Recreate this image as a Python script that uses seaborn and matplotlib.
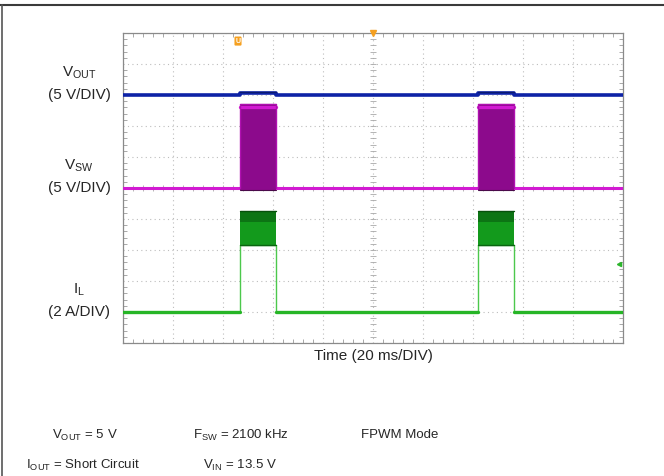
import numpy as np
import pandas as pd
import matplotlib
matplotlib.use("Agg")
import matplotlib.pyplot as plt
import seaborn as sns
from matplotlib.lines import Line2D

# Scope capture: time in ms, trace levels in screen divisions (0 = bottom edge)
time_span_ms = [0, 200]
pulse_start_ms = [46.8, 142.0]
pulse_end_ms = [61.2, 156.4]

vout_base = 8.0
vout_pulse = 8.08
vsw_base = 5.0
vsw_low = 4.93
vsw_high = 7.72
il_base = 1.0
il_band_low = 3.16
il_band_high = 4.26

channel_names = [r"V$_{\mathregular{OUT}}$", r"V$_{\mathregular{SW}}$", r"I$_{\mathregular{L}}$"]
channel_scales = ["(5 V/DIV)", "(5 V/DIV)", "(2 A/DIV)"]
channel_levels = [vout_base, vsw_base, il_base]

time_label = "Time (20 ms/DIV)"
conditions_row1 = [r"V$_{\mathregular{OUT}}$ = 5 V", r"F$_{\mathregular{SW}}$ = 2100 kHz", "FPWM Mode"]
conditions_row2 = [r"I$_{\mathregular{OUT}}$ = Short Circuit", r"V$_{\mathregular{IN}}$ = 13.5 V"]

# scope markers
cursor_u_pos = (46.0, 9.74)
trigger_pos = (100.0, 10.0)
ch4_pos = (198.5, 2.55)


def step_trace(base, high):
    # rectangular pulse train built from the pulse edges
    xs, ys = [time_span_ms[0]], [base]
    for s, e in zip(pulse_start_ms, pulse_end_ms):
        xs += [s, s, e, e]
        ys += [base, high, high, base]
    xs.append(time_span_ms[1])
    ys.append(base)
    return pd.DataFrame({"t": xs, "v": ys})


def baseline_segments(base):
    # baseline pieces between the pulses
    edges = [time_span_ms[0]] + [x for p in zip(pulse_start_ms, pulse_end_ms) for x in p] + [time_span_ms[1]]
    rows = []
    for i in range(0, len(edges), 2):
        rows.append({"t": edges[i], "v": base, "seg": i})
        rows.append({"t": edges[i + 1], "v": base, "seg": i})
    return pd.DataFrame(rows)


sns.set_style("white")
plt.rcParams["font.family"] = ["Liberation Sans", "DejaVu Sans"]
plt.rcParams["mathtext.fontset"] = "custom"
plt.rcParams["mathtext.rm"] = "Liberation Sans"

W, H = 664, 476
fig = plt.figure(figsize=(W / 100, H / 100), dpi=100)
ax = fig.add_axes([123 / W, 1 - 343 / H, 500 / W, 310 / H])

# graticule
ax.set_xlim(*time_span_ms)
ax.set_ylim(0, 10)
ax.set_xticks(np.arange(0, 201, 20))
ax.set_yticks(np.arange(0, 11, 1))
ax.set_xticklabels([])
ax.set_yticklabels([])
ax.tick_params(which="major", length=0)
ax.set_xticks(np.arange(0, 200.1, 4), minor=True)
ax.set_yticks(np.arange(0, 10.01, 0.2), minor=True)
ax.tick_params(which="minor", direction="in", length=3, width=0.6, color="#9a9a9a",
               top=True, right=True, bottom=True, left=True)
ax.grid(True, which="major", linestyle=(0, (1, 3)), color="#bdbdbd", lw=0.8)
for sp in ax.spines.values():
    sp.set_color("#8a8a8a")
    sp.set_linewidth(0.9)
ax.plot(np.full(51, 100.0), np.arange(0, 10.01, 0.2), ls="none", marker="_",
        ms=5, mew=0.6, color="#a8a8a8", zorder=1)
ax.plot(np.arange(0, 200.1, 4), np.full(51, 5.0), ls="none", marker="|",
        ms=5, mew=0.6, color="#a8a8a8", zorder=1)

# V_OUT
sns.lineplot(data=step_trace(vout_base, vout_pulse), x="t", y="v", sort=False,
             estimator=None, color="#0d22a6", lw=2.6, ax=ax, zorder=5)
for s, e in zip(pulse_start_ms, pulse_end_ms):
    ax.plot([s, e], [vout_pulse + 0.02] * 2, color="#0a1a70", lw=0.9, zorder=6)

# V_SW
sns.lineplot(data=baseline_segments(vsw_base), x="t", y="v", units="seg",
             estimator=None, color="#d21ad2", lw=2.2, ax=ax, zorder=5)
for s, e in zip(pulse_start_ms, pulse_end_ms):
    ax.fill_between([s, e], vsw_low, vsw_high, color="#8c0a8c", lw=0, zorder=5)
    ax.plot([s, e], [vsw_high - 0.1] * 2, color="#d21ad2", lw=2.4, zorder=6)
    ax.plot([s, e], [vsw_high] * 2, color="#4a0a4a", lw=0.8, zorder=6)
    ax.plot([s, s, e, e], [vsw_base, vsw_high, vsw_high, vsw_base], color="#b010b0",
            lw=1.0, zorder=6)
    ax.plot([s, e], [vsw_low] * 2, color="#4a0a4a", lw=0.8, zorder=6)

# I_L
sns.lineplot(data=baseline_segments(il_base), x="t", y="v", units="seg",
             estimator=None, color="#26b526", lw=2.4, ax=ax, zorder=5)
sns.lineplot(data=step_trace(il_base, il_band_low), x="t", y="v", sort=False,
             estimator=None, color="#4cc84c", lw=1.0, ax=ax, zorder=4)
for s, e in zip(pulse_start_ms, pulse_end_ms):
    ax.fill_between([s, e], il_band_low, il_band_high, color="#139a1c", lw=0, zorder=5)
    ax.fill_between([s, e], il_band_high - 0.35, il_band_high, color="#0c7414", lw=0, zorder=5)
    ax.plot([s, e], [il_band_high] * 2, color="#07500c", lw=1.0, zorder=6)
    ax.plot([s, e], [il_band_low] * 2, color="#0a6410", lw=1.0, zorder=6)

# scope markers
ax.text(*cursor_u_pos, "U", color="white", fontsize=5, ha="center", va="center",
        fontweight="bold", zorder=8,
        bbox=dict(boxstyle="round,pad=0.15", fc="#f5a020", ec="none"))
ax.plot(*trigger_pos, marker="v", ms=4, color="#f5a020", clip_on=False, zorder=8)
ax.plot(*ch4_pos, marker="<", ms=3, color="#2bb52b", zorder=8)

ax.set_xlabel(time_label, fontsize=11, labelpad=1)
ax.set_ylabel("")

# channel labels left of the screen
for name, scale, lvl in zip(channel_names, channel_scales, channel_levels):
    ax.annotate(scale, xy=(79 / W, lvl), xycoords=(fig.transFigure, ax.transData),
                ha="center", va="center", fontsize=11, annotation_clip=False)
    ax.annotate(name, xy=(79 / W, lvl), xycoords=(fig.transFigure, ax.transData),
                xytext=(0, 16), textcoords="offset points",
                ha="center", va="center", fontsize=11, annotation_clip=False)

# test conditions
for txt, cx in zip(conditions_row1, [85, 241, 400]):
    fig.text(cx / W, 1 - 435 / H, txt, ha="center", va="center", fontsize=9.5)
for txt, cx in zip(conditions_row2, [83, 240]):
    fig.text(cx / W, 1 - 465 / H, txt, ha="center", va="center", fontsize=9.5)

# page frame
fig.add_artist(Line2D([0, 1], [1 - 5 / H] * 2, transform=fig.transFigure,
                      color="#3a3a3a", lw=1.5))
fig.add_artist(Line2D([1.5 / W] * 2, [0, 1 - 5 / H], transform=fig.transFigure,
                      color="#555555", lw=1.2))

fig.savefig("out.png", dpi=100)
